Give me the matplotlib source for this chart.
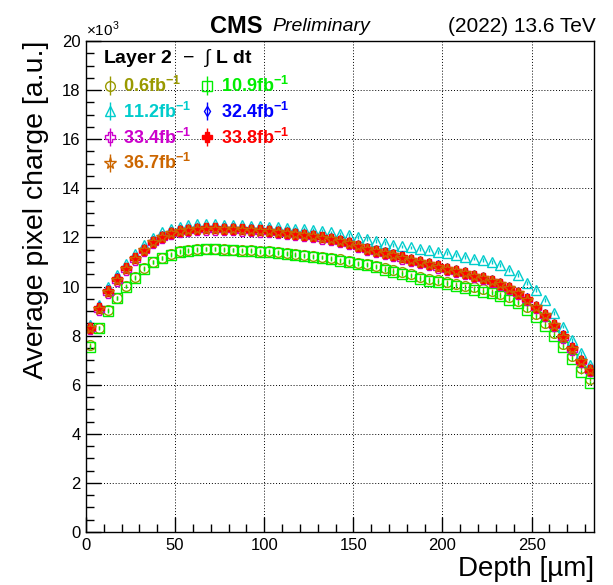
import numpy as np
import matplotlib
matplotlib.use('Agg')
import matplotlib.pyplot as plt
from matplotlib.ticker import MultipleLocator

plt.rcParams['font.family'] = ['Liberation Sans', 'DejaVu Sans']
plt.rcParams['mathtext.fontset'] = 'custom'
plt.rcParams['mathtext.rm'] = 'Liberation Sans'
plt.rcParams['mathtext.bf'] = 'Liberation Sans:bold'

# depth bin centres [um]
depth = np.arange(2.5, 285, 5.0)

# average charge per luminosity point (x 10^3)
charge_0p6 = [7.60, 8.33, 9.04, 9.55, 10.03, 10.40, 10.74, 11.00, 11.17, 11.32,
              11.43, 11.48, 11.52, 11.53, 11.52, 11.52, 11.50, 11.49, 11.47, 11.46,
              11.45, 11.40, 11.36, 11.33, 11.29, 11.25, 11.22, 11.16, 11.10, 11.04,
              10.97, 10.92, 10.84, 10.75, 10.67, 10.58, 10.49, 10.40, 10.32, 10.25,
              10.18, 10.10, 10.03, 9.96, 9.88, 9.80, 9.69, 9.56, 9.40, 9.15,
              8.86, 8.50, 8.10, 7.67, 7.16, 6.66, 6.22]
charge_10p9 = [7.55, 8.30, 9.02, 9.52, 10.00, 10.36, 10.72, 10.98, 11.15, 11.30,
               11.40, 11.46, 11.49, 11.51, 11.51, 11.49, 11.47, 11.45, 11.44, 11.41,
               11.40, 11.36, 11.32, 11.28, 11.26, 11.21, 11.18, 11.12, 11.05, 10.99,
               10.92, 10.87, 10.78, 10.68, 10.60, 10.51, 10.41, 10.32, 10.24, 10.17,
               10.09, 10.01, 9.93, 9.86, 9.78, 9.72, 9.60, 9.47, 9.31, 9.04,
               8.74, 8.39, 7.98, 7.55, 7.03, 6.53, 6.08]
charge_11p2 = [8.42, 9.25, 9.97, 10.47, 10.92, 11.32, 11.68, 11.97, 12.20, 12.35,
               12.44, 12.50, 12.53, 12.54, 12.54, 12.52, 12.51, 12.50, 12.48, 12.46,
               12.44, 12.42, 12.39, 12.36, 12.33, 12.30, 12.25, 12.20, 12.14, 12.08,
               12.03, 11.95, 11.85, 11.77, 11.70, 11.63, 11.59, 11.54, 11.47, 11.42,
               11.36, 11.30, 11.19, 11.14, 11.08, 11.00, 10.88, 10.68, 10.47, 10.15,
               9.86, 9.46, 8.93, 8.37, 7.82, 7.30, 6.80]
charge_32p4 = [8.35, 9.16, 9.84, 10.33, 10.77, 11.18, 11.53, 11.85, 12.06, 12.21,
               12.30, 12.35, 12.39, 12.40, 12.40, 12.38, 12.37, 12.36, 12.33, 12.32,
               12.29, 12.26, 12.22, 12.18, 12.13, 12.08, 12.03, 11.96, 11.89, 11.80,
               11.69, 11.57, 11.49, 11.40, 11.32, 11.23, 11.13, 11.04, 10.96, 10.86,
               10.76, 10.67, 10.59, 10.48, 10.38, 10.28, 10.16, 9.98, 9.77, 9.52,
               9.22, 8.88, 8.47, 8.01, 7.52, 7.02, 6.64]
charge_33p4 = [8.26, 9.06, 9.74, 10.24, 10.68, 11.09, 11.45, 11.77, 11.98, 12.13,
               12.22, 12.27, 12.31, 12.32, 12.32, 12.30, 12.29, 12.28, 12.25, 12.24,
               12.21, 12.18, 12.14, 12.10, 12.05, 12.00, 11.95, 11.88, 11.81, 11.72,
               11.60, 11.48, 11.40, 11.31, 11.23, 11.14, 11.04, 10.95, 10.87, 10.77,
               10.67, 10.58, 10.50, 10.39, 10.29, 10.19, 10.07, 9.89, 9.68, 9.43,
               9.13, 8.79, 8.38, 7.92, 7.43, 6.93, 6.55]
charge_33p8 = [8.32, 9.12, 9.80, 10.30, 10.74, 11.15, 11.50, 11.82, 12.03, 12.18,
               12.27, 12.32, 12.36, 12.37, 12.37, 12.35, 12.34, 12.33, 12.30, 12.29,
               12.26, 12.23, 12.19, 12.15, 12.10, 12.05, 12.00, 11.93, 11.86, 11.77,
               11.65, 11.53, 11.45, 11.36, 11.28, 11.19, 11.09, 11.00, 10.92, 10.82,
               10.72, 10.63, 10.55, 10.44, 10.34, 10.24, 10.12, 9.94, 9.73, 9.48,
               9.18, 8.84, 8.43, 7.97, 7.48, 6.98, 6.60]
charge_36p7 = [8.30, 9.10, 9.79, 10.28, 10.72, 11.13, 11.49, 11.81, 12.02, 12.17,
               12.26, 12.31, 12.35, 12.36, 12.36, 12.34, 12.33, 12.32, 12.29, 12.28,
               12.25, 12.22, 12.18, 12.14, 12.09, 12.04, 11.99, 11.92, 11.85, 11.76,
               11.64, 11.52, 11.44, 11.35, 11.27, 11.18, 11.08, 10.99, 10.91, 10.81,
               10.71, 10.62, 10.54, 10.43, 10.33, 10.23, 10.11, 9.93, 9.72, 9.47,
               9.17, 8.83, 8.42, 7.96, 7.47, 6.97, 6.59]

labels = ['0.6', '10.9', '11.2', '32.4', '33.4', '33.8', '36.7']
series = [charge_0p6, charge_10p9, charge_11p2, charge_32p4,
          charge_33p4, charge_33p8, charge_36p7]
colors = ['#999900', '#00ee00', '#00cccc', '#0000ff', '#cc00cc', '#ff0000', '#cc6600']
markers = ['o', 's', '^', 'd', 'P', 'P', '*']
filled = [False, False, False, False, False, True, False]
sizes = [7, 7, 7.5, 5.5, 7, 7, 8.5]
ERR = 0.08

fig = plt.figure(figsize=(6.13, 5.85), dpi=100)
ax = fig.add_axes([0.1403, 0.0906, 0.8287, 0.8393])

handles = []
for lab, vals, col, mk, fl, ms in zip(labels, series, colors, markers, filled, sizes):
  h = ax.errorbar(depth, vals, yerr=ERR, fmt=mk, color=col, ms=ms, mew=1.0,
                  mfc=col if fl else 'none', mec=col, elinewidth=1.0, capsize=0,
                  label=lab + r'fb$^{\mathbf{-1}}$')
  handles.append(h)

ax.set_xlim(0, 285)
ax.set_ylim(0, 20)
ax.xaxis.set_major_locator(MultipleLocator(50))
ax.xaxis.set_minor_locator(MultipleLocator(10))
ax.yaxis.set_major_locator(MultipleLocator(2))
ax.yaxis.set_minor_locator(MultipleLocator(0.5))
ax.tick_params(which='both', direction='in', top=False, right=False, labelsize=12, width=1)
ax.tick_params(which='major', length=11, pad=4)
ax.tick_params(which='minor', length=5.5)
ax.grid(True, which='major', linestyle=(0, (1, 2)), color='black', linewidth=0.7)
for s in ax.spines.values():
  s.set_linewidth(1.0)

ax.set_xlabel('Depth [\u00b5m]', fontsize=20, loc='right')
ax.xaxis.set_label_coords(1.0, -0.048)
ax.xaxis.label.set_va('top')
ax.set_ylabel('Average pixel charge [a.u.]', fontsize=20.5, loc='top')
ax.yaxis.set_label_coords(-0.072, 1.0)

ax.text(0.0, 1.005, r'$\times$10$^{3}$', transform=ax.transAxes, fontsize=11, va='bottom')
fig.text(0.385, 0.955, 'CMS', fontsize=17, fontweight='bold', ha='center', va='center')
fig.text(0.444, 0.955, 'Preliminary', fontsize=14, fontstyle='italic', ha='left', va='center')
fig.text(0.972, 0.955, '(2022) 13.6 TeV', fontsize=15, ha='right', va='center')

# legend header
ax.text(0.033, 0.966, r'Layer 2  $-$  $\int$ L dt', transform=ax.transAxes,
        fontsize=14, fontweight='bold', va='center', ha='left')

order = [0, 2, 4, 6, 1, 3, 5]
leg = ax.legend([handles[i] for i in order], [handles[i].get_label() for i in order],
                ncol=2, loc='upper left', bbox_to_anchor=(0.008, 0.955), frameon=False,
                handlelength=0.8, handletextpad=0.35, columnspacing=0.45,
                labelspacing=0.32, borderaxespad=0.3,
                prop={'weight': 'bold', 'size': 13})
for txt, i in zip(leg.get_texts(), order):
  txt.set_color(colors[i])

fig.savefig('out.png', dpi=100)
